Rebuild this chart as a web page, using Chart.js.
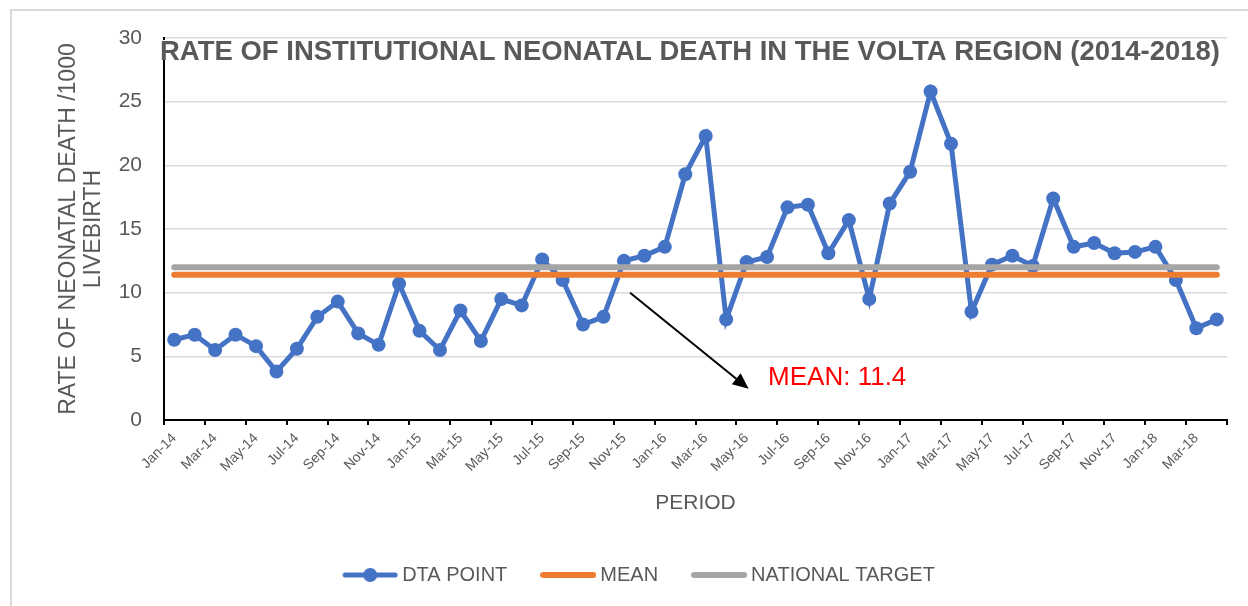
<!DOCTYPE html>
<html><head><meta charset="utf-8">
<script src="https://cdn.jsdelivr.net/npm/chart.js@4/dist/chart.umd.min.js"></script>
<style>html,body{margin:0;padding:0;background:#fff;}#wrap{width:1248px;height:606px;position:relative;}</style>
</head><body><div id="wrap"><canvas id="c" width="1248" height="606"></canvas></div>
<script>
const categories = ["Jan-14","Feb-14","Mar-14","Apr-14","May-14","Jun-14","Jul-14","Aug-14","Sep-14","Oct-14","Nov-14","Dec-14",
"Jan-15","Feb-15","Mar-15","Apr-15","May-15","Jun-15","Jul-15","Aug-15","Sep-15","Oct-15","Nov-15","Dec-15",
"Jan-16","Feb-16","Mar-16","Apr-16","May-16","Jun-16","Jul-16","Aug-16","Sep-16","Oct-16","Nov-16","Dec-16",
"Jan-17","Feb-17","Mar-17","Apr-17","May-17","Jun-17","Jul-17","Aug-17","Sep-17","Oct-17","Nov-17","Dec-17",
"Jan-18","Feb-18","Mar-18","Apr-18"];
const dataPoints = [6.3,6.7,5.5,6.7,5.8,3.8,5.6,8.1,9.3,6.8,5.9,10.7,
7.0,5.5,8.6,6.2,9.5,9.0,12.6,11.0,7.5,8.1,12.5,12.9,
13.6,19.3,22.3,7.9,12.4,12.8,16.7,16.9,13.1,15.7,9.5,17.0,
19.5,25.8,21.7,8.5,12.2,12.9,12.1,17.4,13.6,13.9,13.1,13.2,
13.6,11.0,7.2,7.9];
const meanValue = 11.4;
const nationalTarget = 12;
const meanSeries = categories.map(() => meanValue);
const targetSeries = categories.map(() => nationalTarget);
const seriesNames = ["DTA POINT","MEAN","NATIONAL TARGET"];
const yTicks = {min:0, max:30, step:5};
const chartTitle = "RATE OF INSTITUTIONAL NEONATAL DEATH IN THE VOLTA REGION (2014-2018)";
const yTitle = ["RATE OF NEONATAL DEATH /1000","LIVEBIRTH"];
const xTitle = "PERIOD";
const annotationText = "MEAN: 11.4";
const annotationFrom = [22.3, 10.0];
const annotationTo = [28.1, 2.45];
const annotationTextAt = [29.05, 2.75];

const BLUE = '#4472c4', ORANGE = '#ed7d31', GRAY = '#a5a5a5', TXT = '#595959';
const FONT = "'Liberation Sans', Arial, sans-serif";

function legendImg(color, width, marker){
  const c = document.createElement('canvas'); c.width = 56; c.height = 16;
  const g = c.getContext('2d');
  g.strokeStyle = color; g.lineWidth = width; g.lineCap = 'round';
  g.beginPath(); g.moveTo(3, 8); g.lineTo(53, 8); g.stroke();
  if (marker){ g.fillStyle = color; g.beginPath(); g.arc(28, 8, 7, 0, Math.PI*2); g.fill(); }
  return c;
}
const legendImgs = [legendImg(BLUE,5,true), legendImg(ORANGE,6,false), legendImg(GRAY,6,false)];

const framePlugin = {
  id:'frame',
  beforeDraw(chart){
    const ctx = chart.ctx; ctx.save();
    ctx.fillStyle = '#fff'; ctx.fillRect(0,0,chart.width,chart.height);
    ctx.strokeStyle = '#d9d9d9'; ctx.lineWidth = 2;
    ctx.beginPath(); ctx.moveTo(11, chart.height+2); ctx.lineTo(11, 10); ctx.lineTo(chart.width+2, 10); ctx.stroke();
    ctx.restore();
  },
  afterDraw(chart){
    const ctx = chart.ctx, x = chart.scales.x, y = chart.scales.y;
    ctx.save();
    ctx.fillStyle = '#fff';
    ctx.fillRect(160, 40, 1065, 20);
    ctx.font = "bold 28px " + FONT;
    ctx.fillStyle = TXT; ctx.textAlign = 'center'; ctx.textBaseline = 'alphabetic';
    ctx.fillText(chartTitle, 690, 60, 1060);
    const x1 = x.getPixelForValue(annotationFrom[0]), y1 = y.getPixelForValue(annotationFrom[1]);
    const x2 = x.getPixelForValue(annotationTo[0]), y2 = y.getPixelForValue(annotationTo[1]);
    const ang = Math.atan2(y2-y1, x2-x1), head = 16;
    ctx.strokeStyle = '#000'; ctx.lineWidth = 2;
    ctx.beginPath(); ctx.moveTo(x1,y1);
    ctx.lineTo(x2 - head*0.8*Math.cos(ang), y2 - head*0.8*Math.sin(ang)); ctx.stroke();
    ctx.fillStyle = '#000'; ctx.beginPath();
    ctx.moveTo(x2,y2);
    ctx.lineTo(x2 - head*Math.cos(ang) + 7*Math.sin(ang), y2 - head*Math.sin(ang) - 7*Math.cos(ang));
    ctx.lineTo(x2 - head*Math.cos(ang) - 7*Math.sin(ang), y2 - head*Math.sin(ang) + 7*Math.cos(ang));
    ctx.closePath(); ctx.fill();
    ctx.font = "26px " + FONT; ctx.fillStyle = '#ff0000'; ctx.textAlign = 'left';
    ctx.fillText(annotationText, x.getPixelForValue(annotationTextAt[0]), y.getPixelForValue(annotationTextAt[1]));
    ctx.restore();
  }
};

const PB = 11;
new Chart(document.getElementById('c'), {
  type:'line',
  data:{
    labels: categories,
    datasets:[
      {label: seriesNames[0], data: dataPoints, borderColor: BLUE, backgroundColor: BLUE, borderWidth: 5,
       pointRadius: 7, pointHoverRadius: 7, pointBackgroundColor: BLUE, pointBorderWidth: 0, tension: 0, order: 3},
      {label: seriesNames[1], data: meanSeries, borderColor: ORANGE, backgroundColor: ORANGE, borderWidth: 6,
       pointRadius: 0, borderCapStyle: 'round', order: 2},
      {label: seriesNames[2], data: targetSeries, borderColor: GRAY, backgroundColor: GRAY, borderWidth: 6,
       pointRadius: 0, borderCapStyle: 'round', order: 1}
    ]
  },
  options:{
    responsive:false, animation:false, devicePixelRatio:1,
    layout:{padding:{top:38, left:56, right:21, bottom:PB}},
    plugins:{
      title:{display:false}, tooltip:{enabled:false},
      legend:{position:'bottom',
        labels:{usePointStyle:true, pointStyleWidth:44, boxHeight:16, padding:39, color:TXT,
          font:{family:FONT, size:20},
          generateLabels(chart){
            const items = Chart.defaults.plugins.legend.labels.generateLabels(chart);
            items.sort((a,b)=>a.datasetIndex-b.datasetIndex);
            items.forEach(it => { it.pointStyle = legendImgs[it.datasetIndex]; it.lineWidth = 0; });
            return items;
          }}}
    },
    scales:{
      x:{type:'category', offset:true,
        grid:{display:true, drawOnChartArea:false, drawTicks:true, tickLength:5, offset:true, lineWidth:2,
          color: c => (c.index === undefined || c.index % 2 === 0) ? '#000' : 'rgba(0,0,0,0)'},
        border:{display:true, color:'#000', width:2},
        ticks:{autoSkip:false, maxRotation:45, minRotation:45, padding:5, color:TXT, font:{family:FONT, size:14},
          callback(v, i){ return i % 2 === 0 ? this.getLabelForValue(v) : ''; }},
        title:{display:true, text:xTitle, color:TXT, font:{family:FONT, size:21}, padding:{top:0, bottom:10}},
        afterFit(s){ s.height = (606 - PB - s.chart.legend.height) - 420; }
      },
      y:{min:yTicks.min, max:yTicks.max,
        ticks:{stepSize:yTicks.step, padding:22, color:TXT, font:{family:FONT, size:21}},
        grid:{color:'#d9d9d9', lineWidth:1.5, drawTicks:false},
        border:{display:true, color:'#000', width:2},
        title:{display:true, text:yTitle, color:TXT, font:{family:FONT, size:23, lineHeight:'25px'}, padding:{top:0,bottom:0}},
        afterFit(s){ s.width = 164 - 56; }
      }
    }
  },
  plugins:[framePlugin]
});
</script></body></html>
